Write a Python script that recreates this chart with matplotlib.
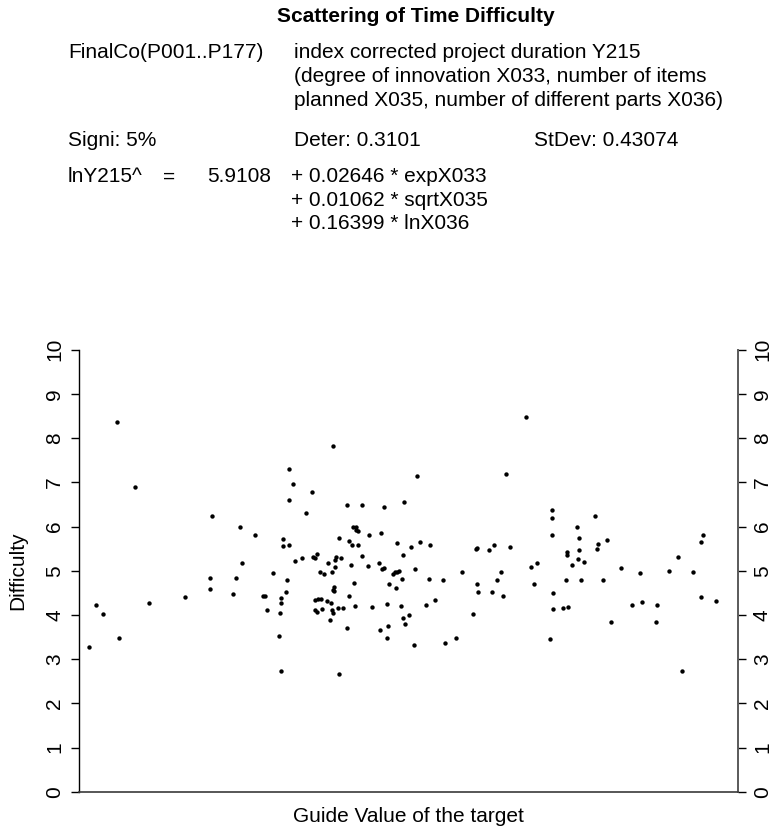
import matplotlib.pyplot as plt
import numpy as np

plt.rcParams['font.family'] = ['Liberation Sans', 'DejaVu Sans']

# guide value (no scale shown, 0..100) and difficulty of each project
guide = [5.8, 8.5, 20.2, 24.4, 24.7, 19.9, 23.8, 19.9, 23.4, 16.0, 10.6, 2.6, 3.6, 6.1, 1.4,
         38.6, 31.9, 32.4, 35.3, 31.9, 34.5, 40.7, 43.0, 46.3, 49.3, 26.7, 30.9, 30.9, 31.9,
         41.5, 42.0, 42.1, 42.3, 39.5, 41.0, 41.4, 42.3, 44.0, 45.8, 48.3, 49.1, 43.0, 43.8,
         45.5, 45.9, 46.3, 47.6, 47.9, 48.2, 48.5, 49.0, 47.0, 48.1, 29.4, 31.5, 31.4, 32.8,
         33.8, 35.5, 35.8, 36.1, 37.8, 38.8, 39.0, 39.7, 38.4, 38.8, 41.3, 36.5, 37.2, 41.7,
         38.7, 38.5, 38.7, 41.0, 27.9, 28.2, 30.6, 30.6, 28.5, 30.5, 35.8, 36.2, 36.7, 37.6,
         38.2, 35.8, 36.1, 36.8, 38.4, 38.5, 39.3, 40.0, 38.1, 40.6, 41.8, 44.5, 46.8, 48.9,
         49.2, 49.4, 50.1, 45.6, 46.9, 46.8, 30.4, 30.6, 39.5,
         67.8, 51.3, 64.8, 71.8, 71.8, 71.8, 50.4, 51.8, 53.3, 60.2, 60.4, 62.2, 63.0, 65.4,
         74.1, 74.1, 74.8, 51.0, 53.1, 55.3, 58.2, 60.4, 60.5, 63.5, 64.1, 62.7, 64.3, 68.6,
         69.5, 69.0, 73.9, 71.9, 71.9, 73.5, 74.3, 52.6, 54.0, 59.8, 50.9, 55.6, 57.2, 71.5,
         78.3, 75.6, 75.9, 75.9, 75.8, 76.7, 76.2, 78.6, 78.8, 80.2, 79.6, 82.2, 85.1, 83.9,
         85.5, 87.7, 80.8, 87.6, 89.6, 90.9, 93.2, 94.4, 94.8, 94.5, 96.7, 91.5]
difficulty = [8.37, 6.90, 6.23, 6.00, 5.18, 4.83, 4.83, 4.59, 4.48, 4.40, 4.27, 4.23, 4.03, 3.48, 3.28,
              7.82, 7.30, 6.97, 6.78, 6.61, 6.30, 6.48, 6.48, 6.43, 6.55, 5.81, 5.72, 5.57, 5.59,
              5.98, 5.99, 5.92, 5.89, 5.74, 5.68, 5.58, 5.59, 5.80, 5.85, 5.62, 5.36, 5.34, 5.10,
              5.18, 5.03, 5.05, 4.93, 4.96, 4.98, 5.00, 4.81, 4.70, 4.61, 4.94, 4.79, 4.51, 5.22,
              5.28, 5.31, 5.28, 5.37, 5.18, 5.24, 5.31, 5.29, 4.98, 5.08, 5.14, 4.97, 4.93, 4.72,
              4.63, 4.56, 4.53, 4.42, 4.43, 4.42, 4.39, 4.27, 4.11, 4.05, 4.33, 4.37, 4.35, 4.31,
              4.27, 4.11, 4.07, 4.14, 4.11, 4.05, 4.15, 4.15, 3.89, 3.71, 4.21, 4.19, 4.24, 4.21,
              3.92, 3.79, 3.99, 3.65, 3.75, 3.47, 3.53, 2.73, 2.67,
              8.48, 7.14, 7.18, 6.38, 6.19, 5.80, 5.54, 5.65, 5.59, 5.48, 5.51, 5.46, 5.59, 5.54,
              5.43, 5.36, 5.13, 5.03, 4.82, 4.78, 4.97, 4.70, 4.51, 4.79, 4.97, 4.51, 4.42, 5.08,
              5.17, 4.69, 4.79, 4.49, 4.14, 4.16, 4.17, 4.23, 4.34, 4.02, 3.33, 3.36, 3.47, 3.46,
              6.23, 5.98, 5.74, 5.47, 5.27, 5.20, 4.79, 5.50, 5.61, 5.70, 4.79, 5.07, 4.95, 4.22,
              4.29, 4.23, 3.85, 3.85, 4.99, 5.31, 4.97, 5.64, 5.80, 4.41, 4.31, 2.73]

yticks = list(range(0, 11))

title = 'Scattering of Time Difficulty'
info_rows = [
    ('FinalCo(P001..P177)', 'index corrected project duration Y215', None),
    (None, '(degree of innovation X033, number of items', None),
    (None, 'planned X035, number of different parts X036)', None),
    ('Signi: 5%', 'Deter: 0.3101', 'StDev: 0.43074'),
]
eq_lhs = 'lnY215^'
eq_const = '5.9108'
eq_terms = ['+ 0.02646 * expX033', '+ 0.01062 * sqrtX035', '+ 0.16399 * lnX036']

W, H = 773, 831
fig = plt.figure(figsize=(W / 100, H / 100), dpi=100)
fs = 15


def px(x, y):
    return x / W, 1 - y / H


# header text block
fig.text(*px(416, 17), title, ha='center', va='center', fontsize=fs, fontweight='bold')
row_y = [53, 77, 100, 140]
for (c1, c2, c3), yy in zip(info_rows, row_y):
    if c1:
        fig.text(*px(68, yy), c1, ha='left', va='center', fontsize=fs)
    if c2:
        fig.text(*px(294, yy), c2, ha='left', va='center', fontsize=fs)
    if c3:
        fig.text(*px(534, yy), c3, ha='left', va='center', fontsize=fs)
fig.text(*px(68, 177), eq_lhs, ha='left', va='center', fontsize=fs)
fig.text(*px(163, 177), '=', ha='left', va='center', fontsize=fs)
fig.text(*px(207, 177), eq_const, ha='left', va='center', fontsize=fs)
for i, t in enumerate(eq_terms):
    fig.text(*px(291, 177 + 23.3 * i), t, ha='left', va='center', fontsize=fs)

# plot
left, right, top, bottom = 79.3, 737.7, 349.7, 791.7
ax = fig.add_axes([left / W, 1 - bottom / H, (right - left) / W, (bottom - top) / H])
ax.scatter(guide, difficulty, s=10, c='black', linewidths=0)
ax.set_xlim(0, 100)
ax.set_ylim(0, 10)
ax.set_xticks([])
ax.set_yticks(yticks)
ax.spines['top'].set_visible(False)
ax.spines['left'].set_color('black')
ax.spines['left'].set_linewidth(1.0)
ax.spines['bottom'].set_color('#3a3a3a')
ax.spines['bottom'].set_linewidth(1.2)
ax.spines['right'].set_color('#5a5a5a')
ax.spines['right'].set_linewidth(1.4)
ax.tick_params(axis='y', which='both', left=True, right=True, labelleft=True, labelright=True,
               direction='out', length=6, width=1.0, pad=5, labelsize=fs, labelrotation=90)
for lab in ax.get_yticklabels():
    lab.set_verticalalignment('center')
ax.set_ylabel('Difficulty', fontsize=fs, va='center')
ax.yaxis.set_label_coords(-(left - 18) / (right - left), 0.5)
ax.set_xlabel('Guide Value of the target', fontsize=fs, va='center')
ax.xaxis.set_label_coords(0.5, -(817 - bottom) / (bottom - top))

fig.savefig('out.png', dpi=100)
